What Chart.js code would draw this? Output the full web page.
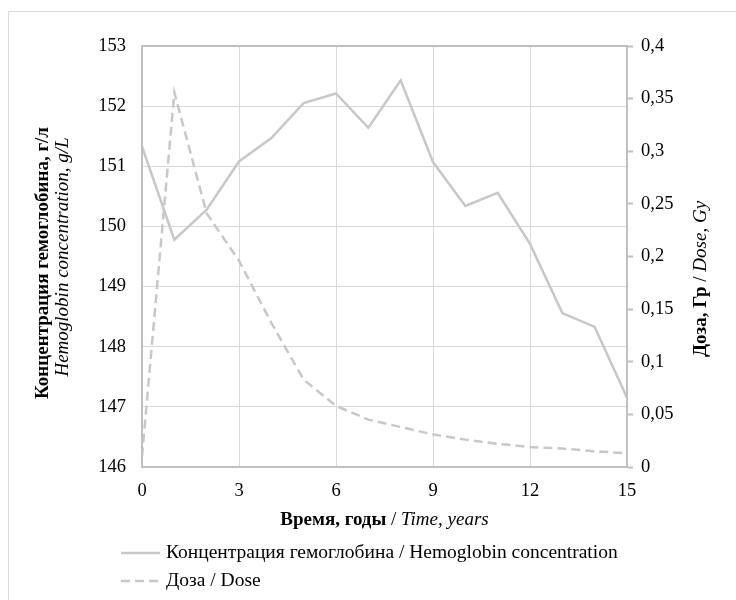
<!DOCTYPE html>
<html>
<head>
<meta charset="utf-8">
<script src="https://cdn.jsdelivr.net/npm/chart.js@4/dist/chart.umd.min.js"></script>
<style>
  html, body { margin: 0; padding: 0; background: #fff; }
  #wrap { position: relative; width: 736px; height: 600px; }
</style>
</head>
<body>
<div id="wrap"><canvas id="chart" width="736" height="600"></canvas></div>
<script>
/* ==========================
   Data
   ========================== */
const years = [0, 1, 2, 3, 4, 5, 6, 7, 8, 9, 10, 11, 12, 13, 14, 15];
const hemoglobin = [151.33, 149.78, 150.28, 151.08, 151.47, 152.05, 152.21, 151.64, 152.43, 151.07, 150.34, 150.56, 149.71, 148.56, 148.33, 147.15];
const dose = [0.01, 0.356, 0.241, 0.196, 0.137, 0.083, 0.058, 0.045, 0.038, 0.031, 0.026, 0.022, 0.019, 0.0175, 0.015, 0.013];

const legendLabels = ['Концентрация гемоглобина / Hemoglobin concentration', 'Доза / Dose'];
const xTitle = [['Время, годы', 'bold'], [' / ', 'normal'], ['Time, years', 'italic']];
const yTitleLine1 = 'Концентрация гемоглобина, г/л';
const yTitleLine2 = 'Hemoglobin concentration, g/L';
const y1Title = [['Доза, Гр', 'bold'], [' / ', 'normal'], ['Dose, Gy', 'italic']];

const FONT = '"Liberation Serif", "Times New Roman", serif';
const LINE = '#c8c8c8';
const AXIS = '#c0c0c0';
const GRID = '#d9d9d9';

/* ==========================
   Helpers
   ========================== */
function drawRich(ctx, parts, size, cx, cy) {
  const fontFor = st => (st === 'bold' ? 'bold ' : st === 'italic' ? 'italic ' : '') + size + 'px ' + FONT;
  let total = 0;
  parts.forEach(p => { ctx.font = fontFor(p[1]); total += ctx.measureText(p[0]).width; });
  let x = cx - total / 2;
  ctx.textAlign = 'left';
  ctx.textBaseline = 'middle';
  parts.forEach(p => {
    ctx.font = fontFor(p[1]);
    ctx.fillText(p[0], x, cy);
    x += ctx.measureText(p[0]).width;
  });
}

function drawRotated(ctx, parts, size, cx, cy) {
  ctx.save();
  ctx.translate(cx, cy);
  ctx.rotate(-Math.PI / 2);
  drawRich(ctx, parts, size, 0, 0);
  ctx.restore();
}

const decorPlugin = {
  id: 'decor',
  beforeDraw(chart) {
    const ctx = chart.ctx;
    ctx.save();
    ctx.fillStyle = '#fff';
    ctx.fillRect(0, 0, chart.width, chart.height);
    ctx.strokeStyle = GRID;
    ctx.lineWidth = 1;
    ctx.strokeRect(8.5, 11.5, chart.width + 10, chart.height + 10);
    ctx.restore();
  },
  afterDraw(chart) {
    const ctx = chart.ctx;
    const a = chart.chartArea;
    ctx.save();
    // plot frame
    ctx.strokeStyle = AXIS;
    ctx.lineWidth = 2;
    ctx.strokeRect(a.left, a.top, a.right - a.left, a.bottom - a.top);

    ctx.fillStyle = '#000';
    drawRich(ctx, xTitle, 19, (a.left + a.right) / 2, 520);
    drawRotated(ctx, [[yTitleLine1, 'bold']], 19, 43, 263);
    drawRotated(ctx, [[yTitleLine2, 'italic']], 19, 63, 257);
    drawRotated(ctx, y1Title, 19, 701, 279);

    // legend
    const rows = [553, 581];
    chart.data.datasets.forEach((ds, i) => {
      const y = rows[i];
      ctx.strokeStyle = ds.borderColor;
      ctx.lineWidth = ds.borderWidth;
      ctx.setLineDash(ds.borderDash || []);
      ctx.beginPath();
      ctx.moveTo(121, y);
      ctx.lineTo(160, y);
      ctx.stroke();
      ctx.setLineDash([]);
      ctx.fillStyle = '#000';
      ctx.font = '19.5px ' + FONT;
      ctx.textAlign = 'left';
      ctx.textBaseline = 'middle';
      ctx.fillText(legendLabels[i], 166, y);
    });
    ctx.restore();
  }
};

/* ==========================
   Chart
   ========================== */
const ctx = document.getElementById('chart');
new Chart(ctx, {
  type: 'line',
  data: {
    datasets: [
      {
        label: legendLabels[0],
        data: years.map((t, i) => ({ x: t, y: hemoglobin[i] })),
        borderColor: LINE,
        borderWidth: 2.5,
        pointRadius: 0,
        tension: 0,
        yAxisID: 'y'
      },
      {
        label: legendLabels[1],
        data: years.map((t, i) => ({ x: t, y: dose[i] })),
        borderColor: LINE,
        borderWidth: 2.5,
        borderDash: [9, 5],
        pointRadius: 0,
        tension: 0,
        yAxisID: 'y1'
      }
    ]
  },
  options: {
    responsive: false,
    animation: false,
    layout: { padding: { top: 46, left: 0, right: 0, bottom: 0 } },
    plugins: { legend: { display: false }, tooltip: { enabled: false } },
    scales: {
      x: {
        type: 'linear',
        min: 0,
        max: 15,
        afterFit: s => { s.height = 133; },
        ticks: { stepSize: 3, color: '#000', font: { family: FONT, size: 18.5 }, padding: 13 },
        grid: { color: GRID, drawTicks: false },
        border: { color: AXIS, width: 2 }
      },
      y: {
        position: 'left',
        min: 146,
        max: 153,
        afterFit: s => { s.width = 142; },
        ticks: { stepSize: 1, color: '#000', font: { family: FONT, size: 18.5 }, padding: 16 },
        grid: { color: GRID, drawTicks: false },
        border: { color: AXIS, width: 2 }
      },
      y1: {
        position: 'right',
        min: 0,
        max: 0.4,
        afterFit: s => { s.width = 109; },
        ticks: {
          stepSize: 0.05,
          color: '#000',
          font: { family: FONT, size: 18.5 },
          padding: 8,
          callback: v => String(Math.round(v * 100) / 100).replace('.', ',')
        },
        grid: { drawOnChartArea: false, color: AXIS, tickLength: 6, tickWidth: 2 },
        border: { color: AXIS, width: 2 }
      }
    }
  },
  plugins: [decorPlugin]
});
</script>
</body>
</html>
